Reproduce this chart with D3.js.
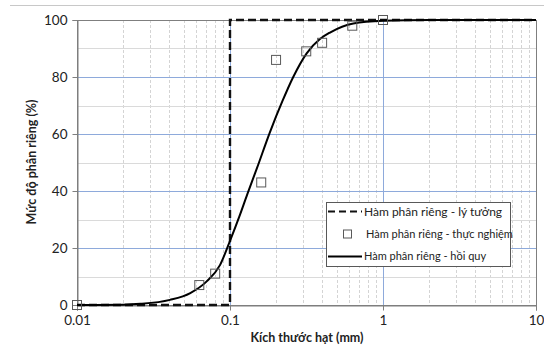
<!DOCTYPE html>
<html>
<head>
<meta charset="utf-8">
<script src="https://cdn.jsdelivr.net/npm/d3@7"></script>
<style>
  body { margin: 0; background: #fff; }
  svg { font-family: Lato, "Open Sans", sans-serif; }
</style>
</head>
<body>
<svg id="chart" width="544" height="354"></svg>
<script>
// so lieu doc tu hinh
const xTicks = [0.01, 0.1, 1, 10];
const xTickLabels = ["0.01", "0.1", "1", "10"];
const yTicks = [0, 20, 40, 60, 80, 100];

const idealX = [0.01, 0.1, 0.1, 10];
const idealY = [0, 0, 100, 100];

const expX = [0.01, 0.063, 0.08, 0.16, 0.2, 0.315, 0.4, 0.63, 1];
const expY = [0, 7, 11, 43, 86, 89, 92, 98, 100];

const fitX = [0.01, 0.02, 0.026, 0.0405, 0.055, 0.0704, 0.086, 0.1, 0.115, 0.13, 0.15, 0.182, 0.22, 0.259, 0.317, 0.387, 0.45, 0.64, 1, 2, 10];
const fitY = [0, 0.1, 0.4, 1.8, 4.2, 8.3, 14, 22.5, 31, 39, 48, 60.5, 71.5, 80, 88.3, 93.3, 95.6, 98.8, 99.7, 100, 100];

const legendItems = ["Hàm phân riêng - lý tưởng", "Hàm phân riêng - thực nghiệm", "Hàm phân riêng - hồi quy"];

const svg = d3.select("#chart");
const m = { left: 77, right: 536, top: 20, bottom: 305 };

const x = d3.scaleLog().domain([0.01, 10]).range([m.left, m.right]);
const y = d3.scaleLinear().domain([0, 100]).range([m.bottom, m.top]);

// duong ke tren cung
svg.append("line").attr("x1", 10).attr("x2", 544).attr("y1", 5.5).attr("y2", 5.5)
  .attr("stroke", "#c8c8c8");

const grid = svg.append("g");
// luoi phu doc (dashed)
const minorX = [];
[0.01, 0.1, 1].forEach(d => { for (let k = 2; k <= 9; k++) minorX.push(d * k); });
grid.selectAll(".vminor").data(minorX).join("line")
  .attr("x1", d => Math.round(x(d)) + 0.5).attr("x2", d => Math.round(x(d)) + 0.5)
  .attr("y1", m.top).attr("y2", m.bottom)
  .attr("stroke", "#d4d4d4").attr("stroke-dasharray", "3,2");
// luoi phu ngang
grid.selectAll(".hminor").data([10, 30, 50, 70, 90]).join("line")
  .attr("x1", m.left).attr("x2", m.right)
  .attr("y1", d => Math.round(y(d)) + 0.5).attr("y2", d => Math.round(y(d)) + 0.5)
  .attr("stroke", "#dadada");
// luoi chinh
grid.selectAll(".hmajor").data([20, 40, 60, 80]).join("line")
  .attr("x1", m.left).attr("x2", m.right)
  .attr("y1", d => Math.round(y(d)) + 0.5).attr("y2", d => Math.round(y(d)) + 0.5)
  .attr("stroke", "#8eaadb");
grid.selectAll(".vmajor").data([0.1, 1]).join("line")
  .attr("x1", d => Math.round(x(d)) + 0.5).attr("x2", d => Math.round(x(d)) + 0.5)
  .attr("y1", m.top).attr("y2", m.bottom)
  .attr("stroke", "#8eaadb");

// khung
svg.append("rect").attr("x", m.left + 0.5).attr("y", m.top + 0.5)
  .attr("width", m.right - m.left).attr("height", m.bottom - m.top)
  .attr("fill", "none").attr("stroke", "#7f7f7f");

// truc
const yAxis = svg.append("g").attr("transform", `translate(${m.left + 0.5},0)`)
  .call(d3.axisLeft(y).tickValues(yTicks).tickSize(5).tickPadding(5));
const xAxis = svg.append("g").attr("transform", `translate(0,${m.bottom + 0.5})`)
  .call(d3.axisBottom(x).tickValues(xTicks).tickFormat((d, i) => xTickLabels[i]).tickSize(5).tickPadding(5));
[yAxis, xAxis].forEach(a => {
  a.select(".domain").attr("stroke", "#7f7f7f");
  a.selectAll(".tick line").attr("stroke", "#7f7f7f");
  a.selectAll("text").attr("font-size", 13.5).attr("fill", "#222").attr("font-family", "Lato, sans-serif");
});

// duong ly tuong
const line = d3.line().x(d => x(d[0])).y(d => y(d[1]));
svg.append("path").datum(d3.zip(idealX, idealY))
  .attr("d", line).attr("fill", "none").attr("stroke", "#111")
  .attr("stroke-width", 2.4).attr("stroke-dasharray", "8,4");

// duong hoi quy
svg.append("path").datum(d3.zip(fitX, fitY))
  .attr("d", line.curve(d3.curveMonotoneX)).attr("fill", "none")
  .attr("stroke", "#000").attr("stroke-width", 2);

// diem thuc nghiem
svg.selectAll(".pt").data(d3.zip(expX, expY)).join("rect")
  .attr("x", d => x(d[0]) - 4.5).attr("y", d => y(d[1]) - 4.5)
  .attr("width", 9).attr("height", 9)
  .attr("fill", "none").attr("stroke", "#595959").attr("stroke-width", 1);

// tieu de truc
svg.append("text").attr("x", 307).attr("y", 342).attr("text-anchor", "middle")
  .attr("font-weight", "bold").attr("font-size", 12.5).attr("fill", "#222")
  .text("Kích thước hạt (mm)");
svg.append("text").attr("transform", "translate(36,162) rotate(-90)").attr("text-anchor", "middle")
  .attr("font-weight", "bold").attr("font-size", 12.5).attr("fill", "#222")
  .text("Mức độ phân riêng (%)");

// chu thich
const lg = svg.append("g");
lg.append("rect").attr("x", 326.5).attr("y", 202.5).attr("width", 184).attr("height", 64)
  .attr("fill", "#fff").attr("stroke", "#595959");
const rowY = [211.5, 234, 256.5];
lg.append("line").attr("x1", 328).attr("x2", 362).attr("y1", rowY[0]).attr("y2", rowY[0])
  .attr("stroke", "#111").attr("stroke-width", 2.2).attr("stroke-dasharray", "7,4");
lg.append("rect").attr("x", 343.5).attr("y", rowY[1] - 4).attr("width", 8).attr("height", 8)
  .attr("fill", "none").attr("stroke", "#595959");
lg.append("line").attr("x1", 328).attr("x2", 362).attr("y1", rowY[2]).attr("y2", rowY[2])
  .attr("stroke", "#000").attr("stroke-width", 2);
lg.selectAll(".lt").data(legendItems).join("text")
  .attr("x", (d, i) => i === 1 ? 366 : 364).attr("y", (d, i) => rowY[i]).attr("dy", "0.35em")
  .attr("font-size", (d, i) => i === 0 ? 12 : 11).attr("fill", "#222")
  .text(d => d);
</script>
</body>
</html>
